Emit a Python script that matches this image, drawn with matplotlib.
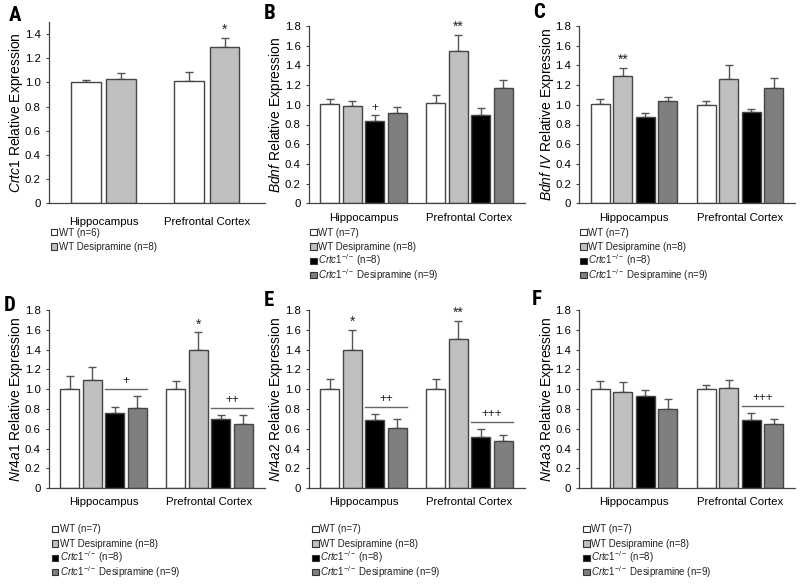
import numpy as np
import matplotlib
matplotlib.use("Agg")
import matplotlib.pyplot as plt
from matplotlib.patches import Rectangle

plt.rcParams['font.family'] = ['Liberation Sans', 'DejaVu Sans']
plt.rcParams['mathtext.fontset'] = 'custom'
plt.rcParams['mathtext.rm'] = 'Liberation Sans'
plt.rcParams['mathtext.it'] = 'Liberation Sans:italic'
plt.rcParams['mathtext.bf'] = 'Liberation Sans:bold'

# ---------------- data ----------------
regions = ['Hippocampus', 'Prefrontal Cortex']

# rows: WT, WT Desipramine, (Crtc1-/-, Crtc1-/- Desipramine); cols: Hippocampus, Prefrontal Cortex
crtc1_mean = np.array([[1.00, 1.01], [1.03, 1.29]])
crtc1_err = np.array([[0.02, 0.075], [0.045, 0.075]])

bdnf_mean = np.array([[1.005, 1.017], [0.983, 1.546], [0.834, 0.898], [0.919, 1.166]])
bdnf_err = np.array([[0.05, 0.078], [0.06, 0.16], [0.065, 0.068], [0.057, 0.085]])

bdnf4_mean = np.array([[1.007, 0.993], [1.295, 1.261], [0.881, 0.925], [1.034, 1.173]])
bdnf4_err = np.array([[0.054, 0.041], [0.078, 0.146], [0.038, 0.034], [0.044, 0.098]])

nr4a1_mean = np.array([[1.00, 1.00], [1.097, 1.393], [0.764, 0.697], [0.808, 0.646]])
nr4a1_err = np.array([[0.13, 0.088], [0.125, 0.18], [0.06, 0.04], [0.12, 0.09]])

nr4a2_mean = np.array([[1.00, 1.00], [1.40, 1.51], [0.688, 0.522], [0.607, 0.475]])
nr4a2_err = np.array([[0.10, 0.10], [0.20, 0.18], [0.06, 0.075], [0.09, 0.064]])

nr4a3_mean = np.array([[1.004, 1.00], [0.971, 1.015], [0.93, 0.688], [0.802, 0.654]])
nr4a3_err = np.array([[0.08, 0.044], [0.10, 0.077], [0.06, 0.07], [0.095, 0.05]])

labels_a = ['WT (n=6)', 'WT Desipramine (n=8)']
labels_4 = ['WT (n=7)', 'WT Desipramine (n=8)',
            r'$\it{Crtc1}^{-/-}$ (n=8)', r'$\it{Crtc1}^{-/-}$ Desipramine (n=9)']

# significance: (series, region, text) marks above bars; brackets over KO bars: (region, text)
stars_a = [(1, 1, '*')]
stars_b = [(2, 0, '+'), (1, 1, '**')]
stars_c = [(1, 0, '**')]
stars_d = [(1, 1, '*')]
stars_e = [(1, 0, '*'), (1, 1, '**')]
stars_f = []
brk_d = [(0, '+'), (1, '++')]
brk_e = [(0, '++'), (1, '+++')]
brk_f = [(1, '+++')]

colors = ['#ffffff', '#c0c0c0', '#000000', '#7f7f7f']
edge = '#454545'

W, H = 800, 585
fig = plt.figure(figsize=(8, 5.85), dpi=100)


def px_axes(left, top, right, bottom):
    return fig.add_axes([left / W, 1 - bottom / H, (right - left) / W, (bottom - top) / H])


def draw_legend(x_px, y0_px, labels, nser):
    step = 14.4
    for i in range(nser):
        yc = y0_px + i * step
        s = 6.5
        fig.add_artist(Rectangle((x_px / W, 1 - (yc + s / 2) / H), s / W, s / H,
                                 transform=fig.transFigure, facecolor=colors[i],
                                 edgecolor='#333333', linewidth=0.8))
        fig.text((x_px + s + 1.5) / W, 1 - (yc + 3.5) / H, labels[i], ha='left',
                 va='baseline', fontsize=7.05, color='#222222')


def panel(ax, mean, err, labels, ylabel, ylim, ymax_tick, xlim, width, pitch,
          stars, brackets, letter, letter_xy, legend_xy, xpad, ylab_x):
    nser = mean.shape[0]
    x = np.arange(len(regions))
    for i in range(nser):
        off = (i - (nser - 1) / 2) * pitch
        ax.errorbar(x + off, mean[i], yerr=[np.zeros(len(regions)), err[i]], fmt='none',
                    ecolor='#555555', elinewidth=1.0, capsize=2.6, capthick=1.0, zorder=1.5)
        ax.bar(x + off, mean[i], width, color=colors[i], edgecolor=edge, linewidth=1.0,
               zorder=2, label=labels[i])
    for (s, r, t) in stars:
        off = (s - (nser - 1) / 2) * pitch
        fs = 10 if '*' in t else 8.5
        ax.text(r + off, mean[s, r] + err[s, r] + 0.012, t, ha='center', va='bottom',
                fontsize=fs, color='#222222')
    for (r, t) in brackets:
        off2 = (2 - (nser - 1) / 2) * pitch
        off3 = (3 - (nser - 1) / 2) * pitch
        top = max(mean[2, r] + err[2, r], mean[3, r] + err[3, r]) + 0.075
        ax.plot([r + off2 - width / 2, r + off3 + width / 2], [top, top],
                color='#666666', lw=1.0, zorder=3)
        ax.text(r + (off2 + off3) / 2, top + 0.015, t, ha='center', va='bottom',
                fontsize=8.5, color='#222222')
    ax.set_xlim(*xlim)
    ax.set_ylim(*ylim)
    ticks = np.round(np.arange(0, ymax_tick + 0.001, 0.2), 1)
    ax.set_yticks(ticks)
    ax.set_yticklabels(['0' if t == 0 else f'{t:.1f}' for t in ticks], fontsize=8.2)
    ax.set_xticks(x)
    ax.set_xticklabels(regions, fontsize=8.2)
    ax.tick_params(axis='x', length=0, pad=xpad)
    ax.tick_params(axis='y', length=2.5, width=0.8, pad=3, color='#444444', direction='out')
    for sp in ['top', 'right']:
        ax.spines[sp].set_visible(False)
    for sp in ['left', 'bottom']:
        ax.spines[sp].set_color('#444444')
        ax.spines[sp].set_linewidth(0.9)
    ax.set_ylabel(ylabel, fontsize=10)
    ax.yaxis.set_label_coords(ylab_x, 0.5)
    fig.text(letter_xy[0] / W, 1 - letter_xy[1] / H, letter, ha='left', va='top',
             fontsize=15, fontweight='bold',
             family=['Liberation Sans Narrow', 'Roboto Condensed', 'DejaVu Sans Condensed',
                     'Liberation Sans'])
    draw_legend(legend_xy[0], legend_xy[1], labels, nser)


cols = [(48.5, 264.5), (308.5, 524.5), (579, 795)]
xlim4 = (-0.52, 1.52)

axA = px_axes(cols[0][0], 22, cols[0][1], 203.3)
panel(axA, crtc1_mean, crtc1_err, labels_a, r'$\it{Crtc1}$ Relative Expression',
      (0, 1.5), 1.4, (-0.535, 1.56), 0.29, 0.345, stars_a, [], 'A', (9, 6), (51, 232),
      10, -0.108)

axB = px_axes(cols[1][0], 26, cols[1][1], 203.3)
panel(axB, bdnf_mean, bdnf_err, labels_4, r'$\it{Bdnf}$ Relative Expression',
      (0, 1.8), 1.8, xlim4, 0.18, 0.212, stars_b, [], 'B', (264, 4), (310, 232), 7, -0.108)

axC = px_axes(cols[2][0], 26, cols[2][1], 203.3)
panel(axC, bdnf4_mean, bdnf4_err, labels_4, r'$\it{Bdnf\ IV}$ Relative Expression',
      (0, 1.8), 1.8, xlim4, 0.18, 0.212, stars_c, [], 'C', (533, 3), (580, 232), 7, -0.108)

axD = px_axes(cols[0][0], 310, cols[0][1], 488.3)
panel(axD, nr4a1_mean, nr4a1_err, labels_4, r'$\it{Nr4a1}$ Relative Expression',
      (0, 1.8), 1.8, xlim4, 0.18, 0.212, stars_d, brk_d, 'D', (4, 296), (52, 529), 6, -0.108)

axE = px_axes(cols[1][0], 310, cols[1][1], 488.3)
panel(axE, nr4a2_mean, nr4a2_err, labels_4, r'$\it{Nr4a2}$ Relative Expression',
      (0, 1.8), 1.8, xlim4, 0.18, 0.212, stars_e, brk_e, 'E', (264, 291), (312, 529), 6, -0.108)

axF = px_axes(cols[2][0], 310, cols[2][1], 488.3)
panel(axF, nr4a3_mean, nr4a3_err, labels_4, r'$\it{Nr4a3}$ Relative Expression',
      (0, 1.8), 1.8, xlim4, 0.18, 0.212, stars_f, brk_f, 'F', (532, 290), (583, 529), 6, -0.108)

fig.savefig('out.png', dpi=100)
